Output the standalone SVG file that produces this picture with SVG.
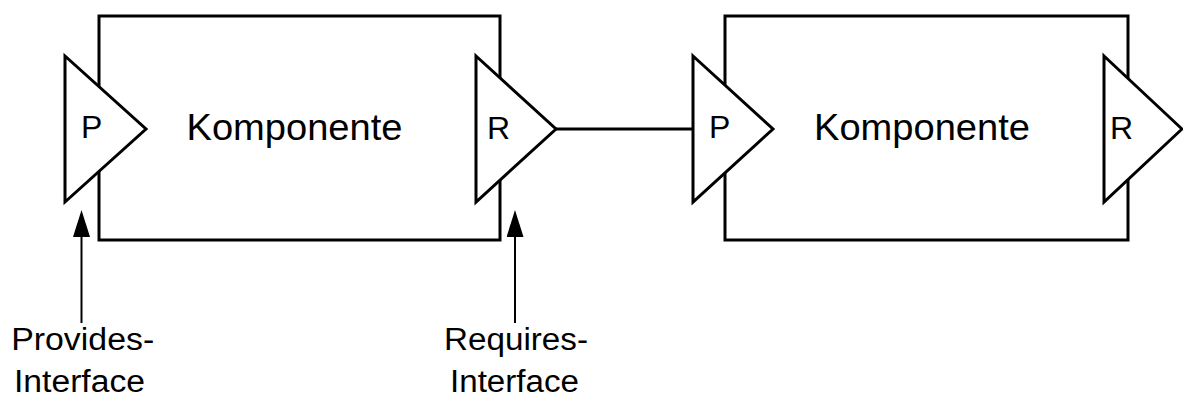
<svg xmlns="http://www.w3.org/2000/svg" width="1183" height="401" viewBox="0 0 1183 401">
<style>
.box{fill:#fff;stroke:#000;stroke-width:3}
.port{fill:#fff;stroke:#000;stroke-width:3;stroke-linejoin:miter}
.t{font-family:"Liberation Sans",Arial,sans-serif;fill:#000}
.big{font-size:37px}
.pl{font-size:32px}
.lab{font-size:31px;text-anchor:middle}
.wire{stroke:#000;stroke-width:3;fill:none}
.ptr{stroke:#000;stroke-width:2;fill:none}
</style>
<defs>
<marker id="ah" markerUnits="userSpaceOnUse" markerWidth="28" markerHeight="18" viewBox="0 0 28 18" refX="15" refY="8.5" orient="auto">
<path d="M0,0 L27,8.5 L0,17 z" fill="#000"/>
</marker>
</defs>
<rect width="1183" height="401" fill="#fff"/>
<g id="komponente1">
<rect class="box" x="99" y="16" width="401" height="224"/>
<text class="t big" x="294.5" y="139.5" text-anchor="middle" textLength="216" lengthAdjust="spacingAndGlyphs">Komponente</text>
<polygon class="port" points="65,56 146,129 65,202"/>
<text class="t pl" x="81" y="138">P</text>
<polygon class="port" points="476,56 556,129 476,202"/>
<text class="t pl" x="487" y="138.5">R</text>
</g>
<g id="komponente2">
<rect class="box" x="725" y="16" width="403" height="224"/>
<text class="t big" x="922" y="139.5" text-anchor="middle" textLength="216" lengthAdjust="spacingAndGlyphs">Komponente</text>
<polygon class="port" points="693,56 773,129 693,202"/>
<text class="t pl" x="709" y="138">P</text>
<polygon class="port" points="1104,56 1182,129 1104,202"/>
<text class="t pl" x="1110" y="138.5">R</text>
</g>
<g id="label-provides">
<text class="t lab" x="82.7" y="350" textLength="143" lengthAdjust="spacingAndGlyphs">Provides-</text>
<text class="t lab" x="79.5" y="392" textLength="131" lengthAdjust="spacingAndGlyphs">Interface</text>
</g>
<g id="label-requires">
<text class="t lab" x="516" y="350" textLength="144" lengthAdjust="spacingAndGlyphs">Requires-</text>
<text class="t lab" x="514.5" y="392" textLength="129" lengthAdjust="spacingAndGlyphs">Interface</text>
</g>
<g id="connectors">
<line class="wire" x1="556" y1="129" x2="693" y2="129"/>
<line class="ptr" x1="81.5" y1="323" x2="81.5" y2="222" marker-end="url(#ah)"/>
<line class="ptr" x1="515" y1="323" x2="515" y2="222" marker-end="url(#ah)"/>
</g>
</svg>
